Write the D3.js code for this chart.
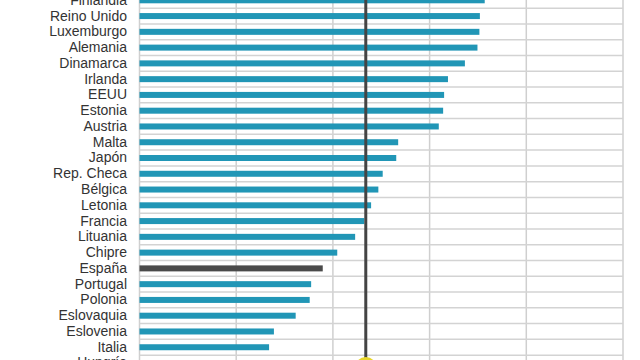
<!DOCTYPE html>
<html><head><meta charset="utf-8">
<script src="https://cdn.jsdelivr.net/npm/d3@7"></script>
<style>html,body{margin:0;padding:0;background:#fff;overflow:hidden}</style>
</head><body>
<svg id="c" width="640" height="360"></svg>
<script>
const countries = ["Finlandia","Reino Unido","Luxemburgo","Alemania","Dinamarca","Irlanda","EEUU","Estonia","Austria","Malta","Japón","Rep. Checa","Bélgica","Letonia","Francia","Lituania","Chipre","España","Portugal","Polonia","Eslovaquia","Eslovenia","Italia","Hungría"];
const values = [71.4,70.4,70.3,69.9,67.3,63.8,63.0,62.8,61.9,53.5,53.1,50.3,49.4,47.9,46.5,44.6,40.9,37.9,35.5,35.2,32.3,27.8,26.8,25.0];
const highlight = ["España"];
const average = 46.8;
const xTicks = [0,20,40,60,80,100];

const svg = d3.select("#c");
const x = d3.scaleLinear().domain([0,100]).range([139.5,623]);
const step = 15.77;
const y = d3.scaleBand().domain(countries).range([0.3 - step/2, 0.3 - step/2 + step*countries.length]).padding(0);

svg.append("g").selectAll("line").data(xTicks).join("line")
  .attr("x1", d=>x(d)).attr("x2", d=>x(d))
  .attr("y1", y.range()[0]).attr("y2", y.range()[1])
  .attr("stroke","#cfcfcf").attr("stroke-width",1.5);

const bounds = countries.map(c=>y(c)).concat([y.range()[1]]);
svg.append("g").selectAll("line").data(bounds).join("line")
  .attr("x1", x(0)).attr("x2", x(100))
  .attr("y1", d=>d).attr("y2", d=>d)
  .attr("stroke","#d3d3d3").attr("stroke-width",1.5);

const bh = 6;
svg.append("g").selectAll("rect").data(countries).join("rect")
  .attr("x", x(0))
  .attr("y", d=>y(d)+y.bandwidth()/2-bh/2)
  .attr("width", (d,i)=>x(values[i])-x(0))
  .attr("height", bh)
  .attr("fill", d=>highlight.includes(d) ? "#4a4a4a" : "#2196b6");

const ax = svg.append("g").attr("transform","translate(127,0)")
  .call(d3.axisLeft(y).tickSize(0).tickPadding(0));
ax.select(".domain").remove();
ax.selectAll("text").attr("font-family","'Liberation Sans', Arial, sans-serif")
  .attr("font-size",14).attr("fill","#333");

svg.append("line").attr("x1",x(average)).attr("x2",x(average))
  .attr("y1",-20).attr("y2",362).attr("stroke","#444").attr("stroke-width",3);
svg.append("circle").attr("cx",x(average)).attr("cy",368).attr("r",11)
  .attr("fill","#e8d62a");
</script>
</body></html>
